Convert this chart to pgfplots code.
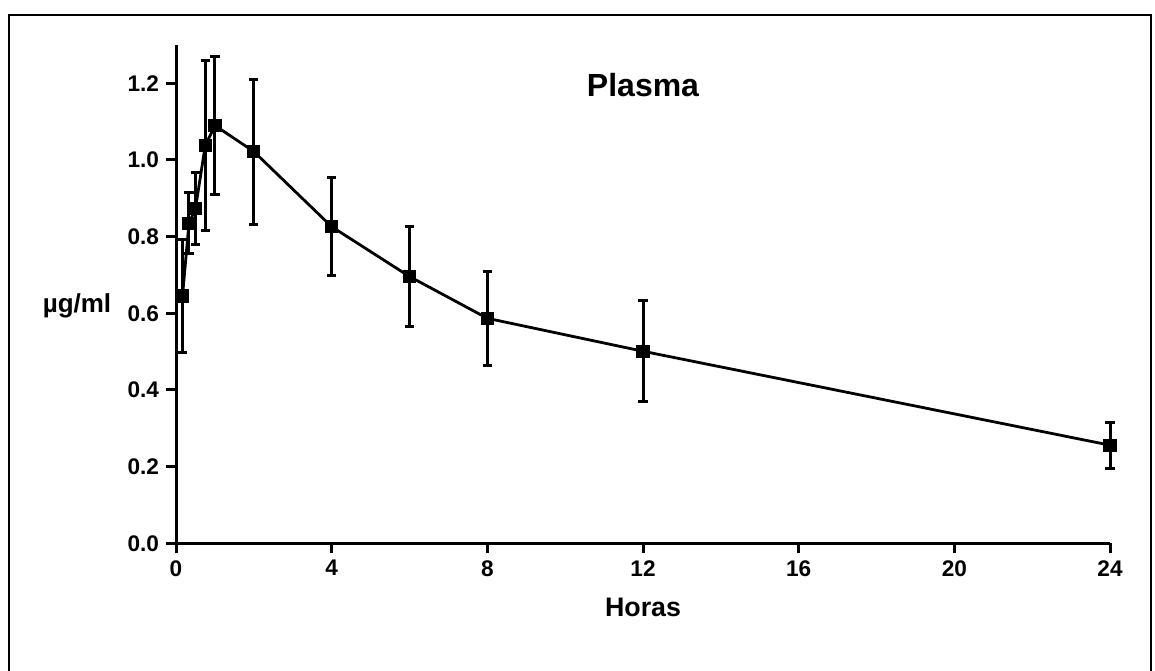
\documentclass[border=0pt]{standalone}
\usepackage{fontspec}
\setmainfont{Liberation Sans}
\usepackage{pgfplots}
\pgfplotsset{compat=1.18}
\usepackage{pgfplotstable}
\pgfplotsset{error bars/draw error bar/.code 2 args={\draw[line width=1.5pt, black] #1 -- #2; \draw[line width=1.5pt, black] #2 ++(-2.3pt,0) -- ++(4.6pt,0);}}
\pgfplotstableread{
t y e
0.167 0.645 0.147
0.333 0.835 0.079
0.5 0.873 0.094
0.75 1.037 0.222
1 1.090 0.180
2 1.022 0.189
4 0.826 0.128
6 0.696 0.131
8 0.587 0.122
12 0.501 0.132
24 0.256 0.060
}\plasma
\begin{document}
\begin{tikzpicture}
\useasboundingbox (0,0) rectangle (577.5pt,335pt);
\draw[line width=1pt] (4.65pt,-5pt) -- (4.65pt,327.5pt) -- (575.5pt,327.5pt) -- (575.5pt,-5pt);
\begin{axis}[
  at={(88pt,63.35pt)}, anchor=south west,
  scale only axis, width=467pt, height=249.15pt,
  xmin=0, xmax=24, ymin=0, ymax=1.3,
  clip=false,
  axis lines=left,
  axis line style={-, line width=1.5pt},
  xtick={0,4,8,12,16,20,24},
  ytick={0,0.2,0.4,0.6,0.8,1.0,1.2},
  tick align=outside,
  major tick length=5pt,
  tick style={line width=1.5pt, black},
  ticklabel style={font=\bfseries\fontsize{11.3}{13}\selectfont},
  /pgf/number format/assume math mode=true,
  yticklabel style={/pgf/number format/.cd, fixed, fixed zerofill, precision=1},
  title={Plasma},
  title style={at={(0.5,0.896)}, anchor=center, font=\bfseries\fontsize{16}{19}\selectfont},
  xlabel={Horas},
  xlabel style={at={(0.5,0)}, anchor=center, yshift=-31.9pt, font=\bfseries\fontsize{13.4}{16}\selectfont},
  every axis y label/.style={at={(0,0.477)}, anchor=center, xshift=-49.5pt, font=\bfseries\fontsize{13}{16}\selectfont},
  ylabel={µg/ml},
]
\addplot[black, line width=1.4pt, mark=square*, mark size=2.6pt, mark options={solid},
  error bars/.cd, y dir=both, y explicit]
  table[x=t, y=y, y error=e]{\plasma};
\end{axis}
\end{tikzpicture}
\end{document}
